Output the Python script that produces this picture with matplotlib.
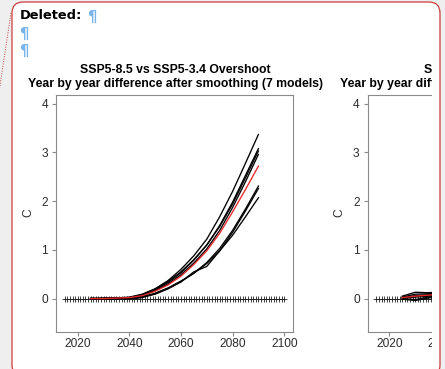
import matplotlib
matplotlib.use("Agg")
import matplotlib.pyplot as plt
from matplotlib.patches import FancyBboxPatch, Rectangle
from matplotlib.lines import Line2D

# ---------------- data ----------------
years = [2025, 2030, 2035, 2040, 2045, 2050, 2055, 2060, 2065, 2070, 2075, 2080, 2085, 2090]

# SSP5-8.5 minus SSP5-3.4 overshoot, smoothed, one series per model (deg C)
model_1 = [0.00, 0.00, 0.01, 0.02, 0.08, 0.20, 0.37, 0.60, 0.88, 1.22, 1.68, 2.20, 2.78, 3.37]
model_2 = [0.01, -0.01, 0.00, 0.01, 0.07, 0.18, 0.33, 0.53, 0.79, 1.10, 1.50, 1.98, 2.53, 3.08]
model_3 = [0.00, 0.01, 0.01, 0.03, 0.09, 0.20, 0.35, 0.55, 0.80, 1.10, 1.48, 1.94, 2.48, 3.03]
model_4 = [-0.01, 0.00, 0.02, 0.02, 0.06, 0.16, 0.30, 0.49, 0.73, 1.02, 1.40, 1.87, 2.40, 2.96]
model_5 = [0.00, 0.00, 0.01, -0.01, 0.02, 0.10, 0.21, 0.35, 0.52, 0.74, 1.03, 1.40, 1.84, 2.31]
model_6 = [0.00, 0.01, 0.00, 0.00, 0.03, 0.09, 0.20, 0.34, 0.55, 0.66, 0.98, 1.36, 1.80, 2.26]
model_7 = [0.00, -0.01, 0.00, 0.01, 0.04, 0.11, 0.22, 0.36, 0.52, 0.72, 0.98, 1.30, 1.68, 2.07]
ensemble_mean = [0.00, 0.00, 0.01, 0.02, 0.06, 0.15, 0.28, 0.46, 0.70, 0.98, 1.34, 1.78, 2.24, 2.72]

# second comparison (early years)
years_b = [2025, 2030, 2035, 2040]
model_b1 = [0.05, 0.13, 0.12, 0.14]
model_b2 = [0.03, 0.09, 0.10, 0.12]
model_b3 = [0.02, 0.06, 0.08, 0.10]
model_b4 = [0.00, -0.02, 0.03, 0.06]
model_b5 = [0.01, 0.03, 0.05, 0.07]
model_b6 = [-0.01, -0.04, 0.01, 0.04]
model_b7 = [0.02, 0.05, 0.06, 0.09]
ensemble_mean_b = [0.02, 0.05, 0.07, 0.09]

baseline_years = list(range(2015, 2101))
baseline = [0.0] * len(baseline_years)

xticks = [2020, 2040, 2060, 2080, 2100]
yticks = [0, 1, 2, 3, 4]

title_a = ["SSP5-8.5 vs SSP5-3.4 Overshoot",
           "Year by year difference after smoothing (7 models)"]
title_b = ["SSP1-2.6 vs SSP1-1.9",
           "Year by year difference after smoothing (7 models)"]

# ---------------- page ----------------
W, H = 445, 369
fig = plt.figure(figsize=(W / 100, H / 100), dpi=100, facecolor="#efefef")


def fx(x):
    return x / W


def fy(y):
    return 1 - y / H


RED = "#cc3b3b"
box_kw = dict(boxstyle="round,pad=0,rounding_size=0.11",
              transform=fig.dpi_scale_trans)
box_xy = (0.12, (H - 376) / 100)
box_w, box_h = 4.28, (376 - 2) / 100
fig.patches.append(FancyBboxPatch(box_xy, box_w, box_h, facecolor="white",
                                  edgecolor="none", zorder=-5, **box_kw))

# comment connector
fig.add_artist(Line2D([fx(11), fx(-1)], [fy(13), fy(92)], transform=fig.transFigure,
                      color=RED, lw=0.7, ls=(0, (1, 1.5)), zorder=12))

fig.text(fx(20), fy(15.5), "Deleted:", family="DejaVu Sans", weight="bold",
         fontsize=9.4, ha="left", va="center", color="black")
PIL = "#78b3ea"
for px, py in [(87, 17.5), (19, 34), (19, 51)]:
    fig.text(fx(px), fy(py), "\u00b6", family="DejaVu Sans", weight="bold",
             fontsize=10.5, ha="left", va="center", color=PIL)

TXT = "#2b2b2b"
SPINE = "#8a8a8a"
FONT = "Liberation Sans"


def make_panel(left_px, titles, series, mean, yrs):
    ax = fig.add_axes([fx(left_px), fy(331.7), 237 / W, (331.7 - 95) / H])
    ax.set_facecolor("white")
    ax.plot(baseline_years, baseline, ls="none", marker="+", ms=4.4, mew=0.6,
            color="#1e1e1e", zorder=2)
    for s in series:
        ax.plot(yrs, s, color="black", lw=0.95, zorder=3)
    ax.plot(yrs, mean, color="#e8262a", lw=0.95, zorder=4)
    ax.set_xlim(2011.6, 2103.4)
    ax.set_ylim(-0.68, 4.18)
    ax.set_xticks(xticks)
    ax.set_yticks(yticks)
    for sp in ax.spines.values():
        sp.set_color(SPINE)
        sp.set_linewidth(0.8)
    ax.tick_params(direction="out", length=2.6, width=0.8, color=SPINE,
                   labelcolor=TXT, labelsize=8.6)
    ax.tick_params(axis="y", pad=3.2)
    ax.tick_params(axis="x", pad=1.8)
    for lab in ax.get_xticklabels() + ax.get_yticklabels():
        lab.set_family(FONT)
    cx = left_px + 119.5
    fig.text(fx(cx), fy(70), titles[0], family=FONT, weight="bold", fontsize=8.85,
             ha="center", va="center", color="black")
    fig.text(fx(cx), fy(84), titles[1], family=FONT, weight="bold", fontsize=8.85,
             ha="center", va="center", color="black")
    fig.text(fx(left_px - 28), fy(213), "C", family=FONT, fontsize=8.6,
             rotation=90, ha="center", va="center", color=TXT)
    return ax


make_panel(56, title_a,
           [model_1, model_2, model_3, model_4, model_5, model_6, model_7],
           ensemble_mean, years)
make_panel(367.7, title_b,
           [model_b1, model_b2, model_b3, model_b4, model_b5, model_b6, model_b7],
           ensemble_mean_b, years_b)

# inner margin of the comment box: content stops short of its right edge
fig.patches.append(Rectangle((fx(432), 0), fx(440) - fx(432), fy(14),
                             transform=fig.transFigure, facecolor="white",
                             edgecolor="none", zorder=10))
# page margin to the right of the comment box
fig.patches.append(Rectangle((fx(440), 0), 1 - fx(440), 1, transform=fig.transFigure,
                             facecolor="#efefef", edgecolor="none", zorder=10))
fig.patches.append(FancyBboxPatch(box_xy, box_w, box_h, facecolor="none",
                                  edgecolor=RED, lw=0.9, zorder=11, **box_kw))

fig.savefig("out.png", dpi=100, facecolor=fig.get_facecolor())
